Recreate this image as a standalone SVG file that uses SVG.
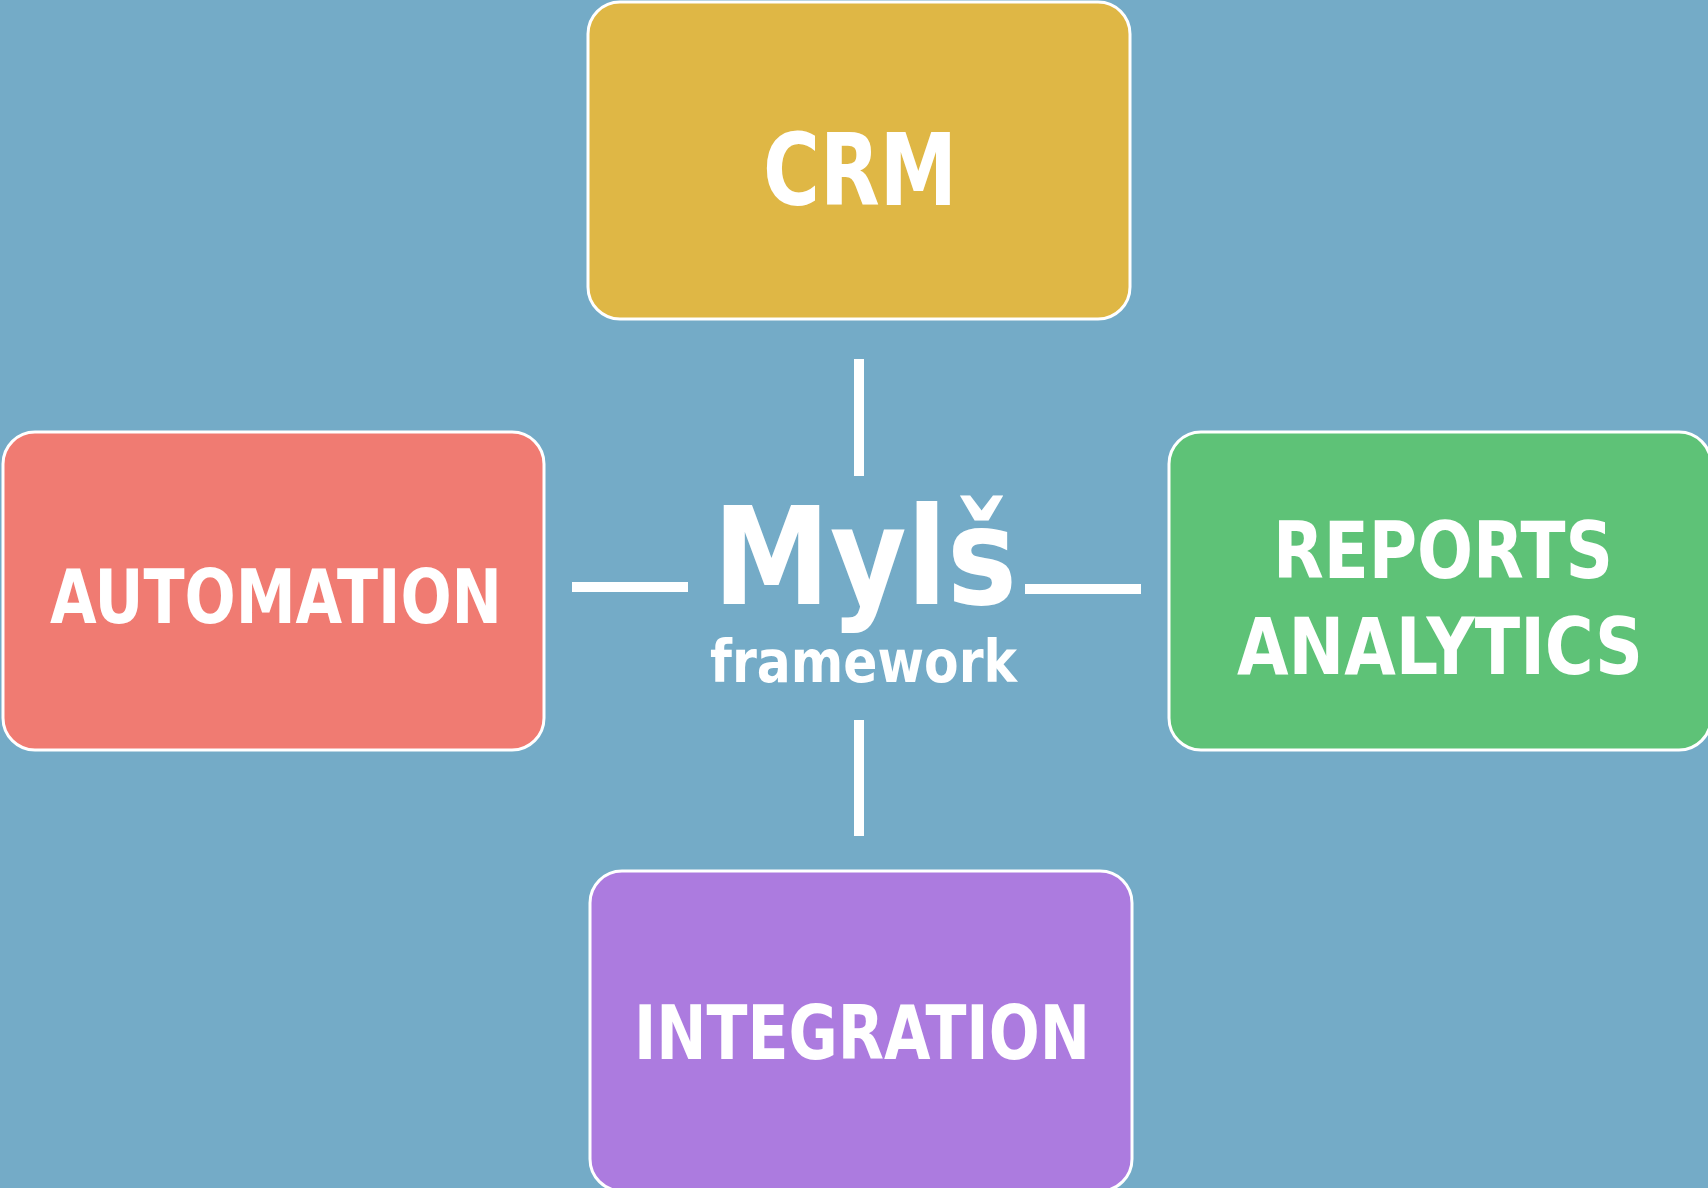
<svg xmlns="http://www.w3.org/2000/svg" width="1708" height="1188" viewBox="0 0 1708 1188">
<style>
.box{stroke:#ffffff;stroke-width:3}
.lbl{font-family:"DejaVu Sans Condensed","DejaVu Sans",sans-serif;font-weight:bold;fill:#ffffff;text-anchor:start}
.conn{stroke:#ffffff;stroke-width:10;fill:none}
</style>
<rect x="0" y="0" width="1708" height="1188" fill="#74ABC7"/>
<g id="crm">
<rect class="box" x="588" y="2" width="542" height="317" rx="32" fill="#DFB745"/>
<text class="lbl" x="763" y="205" font-size="99" textLength="194" lengthAdjust="spacingAndGlyphs">CRM</text>
</g>
<g id="automation">
<rect class="box" x="3" y="432" width="541" height="318" rx="32" fill="#F07B72"/>
<text class="lbl" x="50" y="623" font-size="75" textLength="452" lengthAdjust="spacingAndGlyphs">AUTOMATION</text>
</g>
<g id="reports">
<rect class="box" x="1169" y="432" width="542" height="318" rx="32" fill="#5EC277"/>
<text class="lbl" x="1273" y="578" font-size="79" textLength="340" lengthAdjust="spacingAndGlyphs">REPORTS</text>
<text class="lbl" x="1237" y="674" font-size="79" textLength="406" lengthAdjust="spacingAndGlyphs">ANALYTICS</text>
</g>
<g id="integration">
<rect class="box" x="590" y="871" width="542" height="320" rx="32" fill="#AC7BDF"/>
<text class="lbl" x="634" y="1059" font-size="75" textLength="456" lengthAdjust="spacingAndGlyphs">INTEGRATION</text>
</g>
<g id="center">
<text class="lbl" x="713" y="604" font-size="136" textLength="304" lengthAdjust="spacingAndGlyphs">Mylš</text>
<text class="lbl" x="710" y="682" font-size="58" textLength="307" lengthAdjust="spacingAndGlyphs">framework</text>
</g>
<g id="connectors">
<line class="conn" x1="859" y1="359" x2="859" y2="476"/>
<line class="conn" x1="859" y1="720" x2="859" y2="836"/>
<line class="conn" x1="572" y1="587" x2="688" y2="587"/>
<line class="conn" x1="1025" y1="589" x2="1141" y2="589"/>
</g>
</svg>
